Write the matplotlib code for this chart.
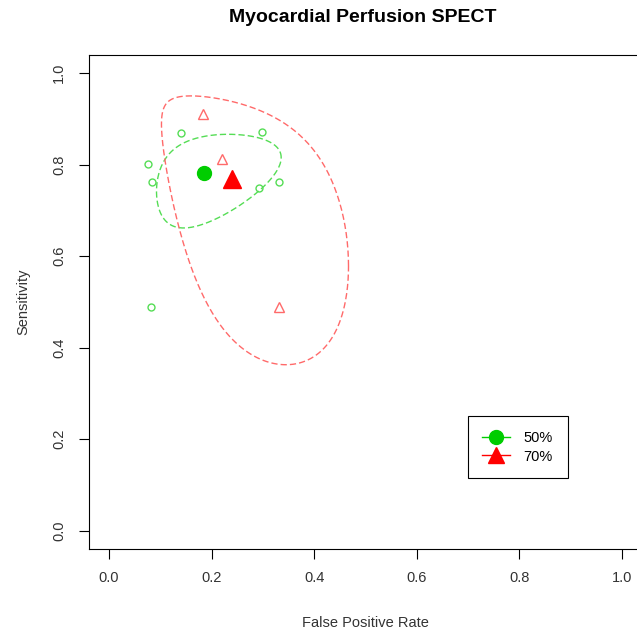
import numpy as np
import matplotlib
matplotlib.use('Agg')
import matplotlib.pyplot as plt
from matplotlib.lines import Line2D

plt.rcParams['font.family'] = ['Liberation Sans', 'DejaVu Sans']

# study level estimates (false positive rate, sensitivity)
fpr_50 = [0.141, 0.298, 0.076, 0.084, 0.292, 0.331, 0.081]
sens_50 = [0.869, 0.871, 0.802, 0.762, 0.750, 0.762, 0.488]
fpr_70 = [0.183, 0.220, 0.332]
sens_70 = [0.911, 0.812, 0.490]

# summary points
summary_50 = (0.185, 0.781)
summary_70 = (0.240, 0.768)

# confidence regions in logit space: half axes and correlation
region_50 = dict(ax=0.80, ay=0.60, rho=0.36)
region_70 = dict(ax=1.02, ay=1.76, rho=-0.50)

green = '#00CD00'
green_l = '#55DD55'
red = '#FF0000'
red_l = '#FF6A6A'


def logit(p):
    return np.log(p / (1 - p))


def expit(z):
    return 1 / (1 + np.exp(-z))


def region(center, ax, ay, rho):
    t = np.linspace(0, 2 * np.pi, 400)
    cx, cy = logit(center[0]), logit(center[1])
    zx = cx + ax * np.cos(t)
    zy = cy + ay * (rho * np.cos(t) + np.sqrt(1 - rho ** 2) * np.sin(t))
    return expit(zx), expit(zy)


fig = plt.figure(figsize=(6.37, 6.31), dpi=100)
ax = fig.add_axes([88.5 / 637, 82 / 631, 554 / 637, 494 / 631])

x, y = region(summary_50, **region_50)
ax.plot(x, y, color=green_l, lw=1, dashes=(4.5, 2.2))
x, y = region(summary_70, **region_70)
ax.plot(x, y, color=red_l, lw=1, dashes=(4.5, 2.2))

ax.plot(fpr_50, sens_50, 'o', ms=5, mfc='none', mec=green_l, mew=1)
ax.plot(fpr_70, sens_70, '^', ms=6.5, mfc='none', mec=red_l, mew=1)
ax.plot(*summary_50, 'o', ms=10, color=green)
ax.plot(*summary_70, '^', ms=13, color=red)

ax.set_xlim(-0.04, 1.04)
ax.set_ylim(-0.04, 1.04)
ax.set_xticks([0, 0.2, 0.4, 0.6, 0.8, 1.0])
ax.set_yticks([0, 0.2, 0.4, 0.6, 0.8, 1.0])
ax.set_xticklabels(['0.0', '0.2', '0.4', '0.6', '0.8', '1.0'])
ax.set_yticklabels(['0.0', '0.2', '0.4', '0.6', '0.8', '1.0'], rotation=90, va='center')
ax.tick_params(length=7, width=0.8, labelsize=10.5, labelcolor='#333333', pad=9)
for s in ax.spines.values():
    s.set_linewidth(0.8)

ax.set_xlabel('False Positive Rate', fontsize=10.5, color='#333333', labelpad=22)
ax.set_ylabel('Sensitivity', fontsize=10.5, color='#333333', labelpad=16)
fig.text(363 / 637, 1 - 18 / 631, 'Myocardial Perfusion SPECT', ha='center', va='center',
         fontsize=14, fontweight='bold')

handles = [Line2D([], [], color=green, marker='o', ms=10, lw=1),
           Line2D([], [], color=red, marker='^', ms=12, lw=1)]
leg = ax.legend(handles, ['50%', '70%'], loc='upper left',
                bbox_to_anchor=(0.699, 0.250), bbox_transform=ax.transData,
                borderaxespad=0, fancybox=False, framealpha=1, edgecolor='black',
                fontsize=10.5, handlelength=1.9, labelspacing=0.32, borderpad=1.0,
                handletextpad=0.95)
leg.get_frame().set_linewidth(0.8)

fig.savefig('out.png', dpi=100)
